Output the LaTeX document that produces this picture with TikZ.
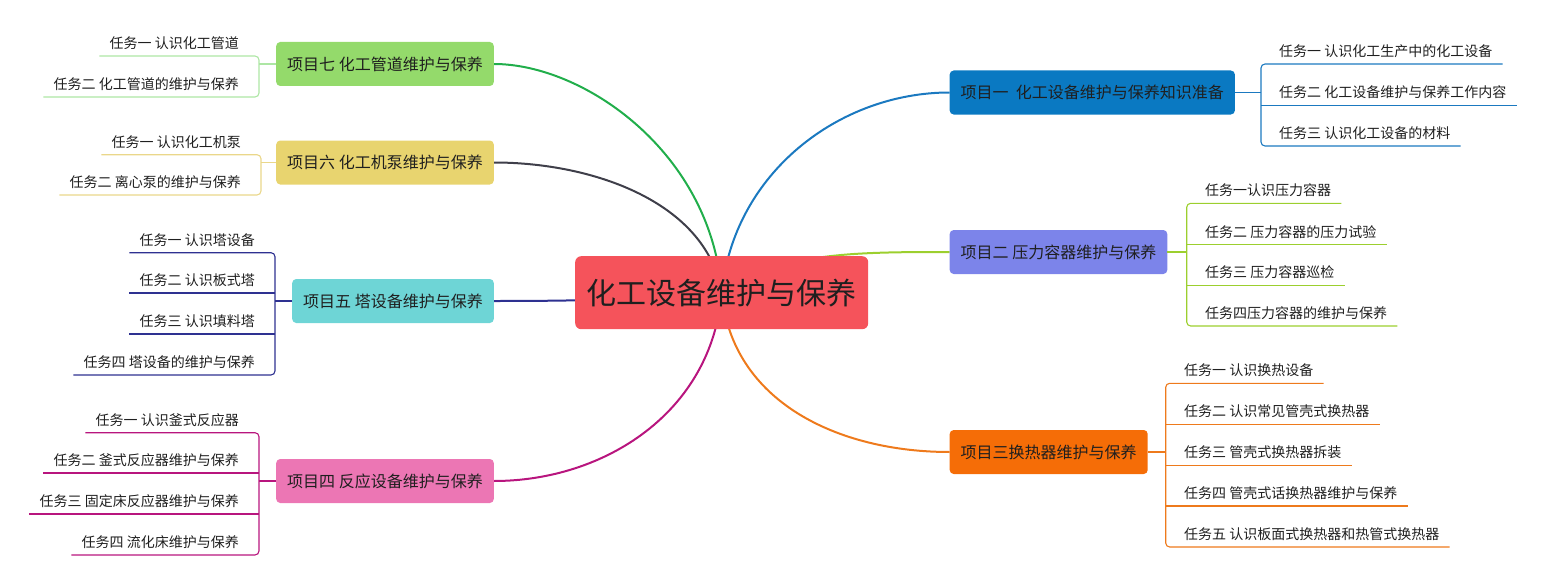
\documentclass[tikz,border=0pt]{standalone}
\usepackage{fontspec}
\newfontfamily\cjk{Noto Sans CJK SC}
\usepackage{tikz}
\usetikzlibrary{backgrounds}

%% Topic colours (box fill / line)
\definecolor{rootred}{HTML}{F5535B}
\definecolor{fillA}{HTML}{0A79C2}  \definecolor{lineA}{HTML}{1B79C0}
\definecolor{fillB}{HTML}{7C84EA}  \definecolor{lineB}{HTML}{9CCF2E}
\definecolor{fillC}{HTML}{F56D07}  \definecolor{lineC}{HTML}{EE7A1C}
\definecolor{fillD}{HTML}{EC76B4}  \definecolor{lineD}{HTML}{B8157E}
\definecolor{fillE}{HTML}{6ED5D6}  \definecolor{lineE}{HTML}{2E3191}
\definecolor{fillF}{HTML}{E8D46F}  \definecolor{lineF}{HTML}{3F3F4A} \definecolor{twigF}{HTML}{EAD78A}
\definecolor{fillG}{HTML}{94DA6B}  \definecolor{lineG}{HTML}{21AE4B} \definecolor{twigG}{HTML}{ADE6A4}

\begin{document}
\begin{tikzpicture}[
  x=1pt, y=-1pt,
  every node/.style={font=\cjk, text=black!88},
  root/.style={fill=rootred, rounded corners=6pt, minimum width=293pt,
    minimum height=73pt, font=\cjk\fontsize{30}{34}\selectfont},
  topic/.style={rounded corners=4pt, minimum height=44pt, inner xsep=11pt,
    font=\cjk\fontsize{16}{19}\selectfont},
  task/.style={inner xsep=10pt, inner ysep=6.5pt, text depth=1pt,
    font=\cjk\fontsize{14}{16}\selectfont},
  branch/.style={line width=2pt},
  twig/.style={line width=1.1pt, rounded corners=4pt},
]
\useasboundingbox (0,0) rectangle (1545,586);

%% Central topic and projects
\node[root] (root) at (721.7, 292.7) {化工设备维护与保养};

\node[topic, fill=fillA, anchor=west] (p1) at (949.5, 92.5) {项目一~~化工设备维护与保养知识准备};
\node[topic, fill=fillB, anchor=west] (p2) at (949.5, 252) {项目二 压力容器维护与保养};
\node[topic, fill=fillC, anchor=west] (p3) at (949.5, 452) {项目三换热器维护与保养};
\node[topic, fill=fillD, anchor=east] (p4) at (494, 481) {项目四 反应设备维护与保养};
\node[topic, fill=fillE, anchor=east] (p5) at (494, 301) {项目五 塔设备维护与保养};
\node[topic, fill=fillF, anchor=east] (p6) at (494, 162.5) {项目六 化工机泵维护与保养};
\node[topic, fill=fillG, anchor=east] (p7) at (494, 64) {项目七 化工管道维护与保养};

%% Branches from the centre (hidden under the central box)
\begin{scope}[on background layer]
  \draw[branch, lineA] (root.center) .. controls +(12,-120) and +(-110,0) .. (p1.west);
  \draw[branch, lineB] (root.center) .. controls +(60,-40) and +(-100,0) .. (p2.west);
  \draw[branch, lineC] (root.center) .. controls +(10,110) and +(-110,0) .. (p3.west);
  \draw[branch, lineD] (root.center) .. controls +(-10,120) and +(110,0) .. (p4.east);
  \draw[branch, lineE] (root.center) .. controls +(-80,8) and +(50,0) .. (p5.east);
  \draw[branch, lineF] (root.center) .. controls +(-15,-90) and +(100,0) .. (p6.east);
  \draw[branch, lineG] (root.center) .. controls +(-10,-140) and +(90,0) .. (p7.east);
\end{scope}

%% Project 1 tasks
\coordinate (b1) at (1261, 92.5);
\foreach \y/\txt [count=\i] in {64/任务一 认识化工生产中的化工设备,
    105.3/任务二 化工设备维护与保养工作内容, 146/任务三 认识化工设备的材料}
  \node[task, anchor=south west] (t1-\i) at (1269, \y) {\txt};
\draw[twig, lineA] (p1.east) -- (b1);
\draw[twig, lineA] (t1-1.south east) -- (b1 |- t1-1.south) -- (b1 |- t1-3.south) -- (t1-3.south east);
\draw[twig, lineA] (b1 |- t1-2.south) -- (t1-2.south east);

%% Project 2 tasks
\coordinate (b2) at (1186.7, 252);
\foreach \y/\txt [count=\i] in {203.3/任务一认识压力容器, 244.7/任务二 压力容器的压力试验,
    285.3/任务三 压力容器巡检, 326/任务四压力容器的维护与保养}
  \node[task, anchor=south west] (t2-\i) at (1195, \y) {\txt};
\draw[twig, lineB] (p2.east) -- (b2);
\draw[twig, lineB] (t2-1.south east) -- (b2 |- t2-1.south) -- (b2 |- t2-4.south) -- (t2-4.south east);
\foreach \i in {2,3}
  \draw[twig, lineB] (b2 |- t2-\i.south) -- (t2-\i.south east);

%% Project 3 tasks
\coordinate (b3) at (1165.7, 452);
\foreach \y/\txt [count=\i] in {383.3/任务一 认识换热设备, 424.3/任务二 认识常见管壳式换热器,
    465.3/任务三 管壳式换热器拆装, 506/任务四 管壳式话换热器维护与保养,
    547/任务五 认识板面式换热器和热管式换热器}
  \node[task, anchor=south west] (t3-\i) at (1174, \y) {\txt};
\draw[twig, lineC] (p3.east) -- (b3);
\draw[twig, lineC] (t3-1.south east) -- (b3 |- t3-1.south) -- (b3 |- t3-5.south) -- (t3-5.south east);
\foreach \i in {2,3,4}
  \draw[twig, lineC] (b3 |- t3-\i.south) -- (t3-\i.south east);

%% Project 4 tasks
\coordinate (b4) at (259, 481);
\foreach \y/\txt [count=\i] in {432.7/任务一 认识釜式反应器, 473/任务二 釜式反应器维护与保养,
    514/任务三 固定床反应器维护与保养, 555/任务四 流化床维护与保养}
  \node[task, anchor=south east] (t4-\i) at (249, \y) {\txt};
\draw[twig, lineD] (p4.west) -- (b4);
\draw[twig, lineD] (t4-1.south west) -- (b4 |- t4-1.south) -- (b4 |- t4-4.south) -- (t4-4.south west);
\foreach \i in {2,3}
  \draw[twig, lineD] (b4 |- t4-\i.south) -- (t4-\i.south west);

%% Project 5 tasks
\coordinate (b5) at (275, 301);
\foreach \y/\txt [count=\i] in {252.7/任务一 认识塔设备, 293/任务二 认识板式塔,
    334/任务三 认识填料塔, 375/任务四 塔设备的维护与保养}
  \node[task, anchor=south east] (t5-\i) at (265, \y) {\txt};
\draw[twig, lineE] (p5.west) -- (b5);
\draw[twig, lineE] (t5-1.south west) -- (b5 |- t5-1.south) -- (b5 |- t5-4.south) -- (t5-4.south west);
\foreach \i in {2,3}
  \draw[twig, lineE] (b5 |- t5-\i.south) -- (t5-\i.south west);

%% Project 6 tasks
\coordinate (b6) at (261, 162.5);
\foreach \y/\txt [count=\i] in {154.7/任务一 认识化工机泵, 195/任务二 离心泵的维护与保养}
  \node[task, anchor=south east] (t6-\i) at (251, \y) {\txt};
\draw[twig, twigF] (p6.west) -- (b6);
\draw[twig, twigF] (t6-1.south west) -- (b6 |- t6-1.south) -- (b6 |- t6-2.south) -- (t6-2.south west);

%% Project 7 tasks
\coordinate (b7) at (259, 64);
\foreach \y/\txt [count=\i] in {56/任务一 认识化工管道, 97/任务二 化工管道的维护与保养}
  \node[task, anchor=south east] (t7-\i) at (249, \y) {\txt};
\draw[twig, twigG] (p7.west) -- (b7);
\draw[twig, twigG] (t7-1.south west) -- (b7 |- t7-1.south) -- (b7 |- t7-2.south) -- (t7-2.south west);

\end{tikzpicture}
\end{document}
